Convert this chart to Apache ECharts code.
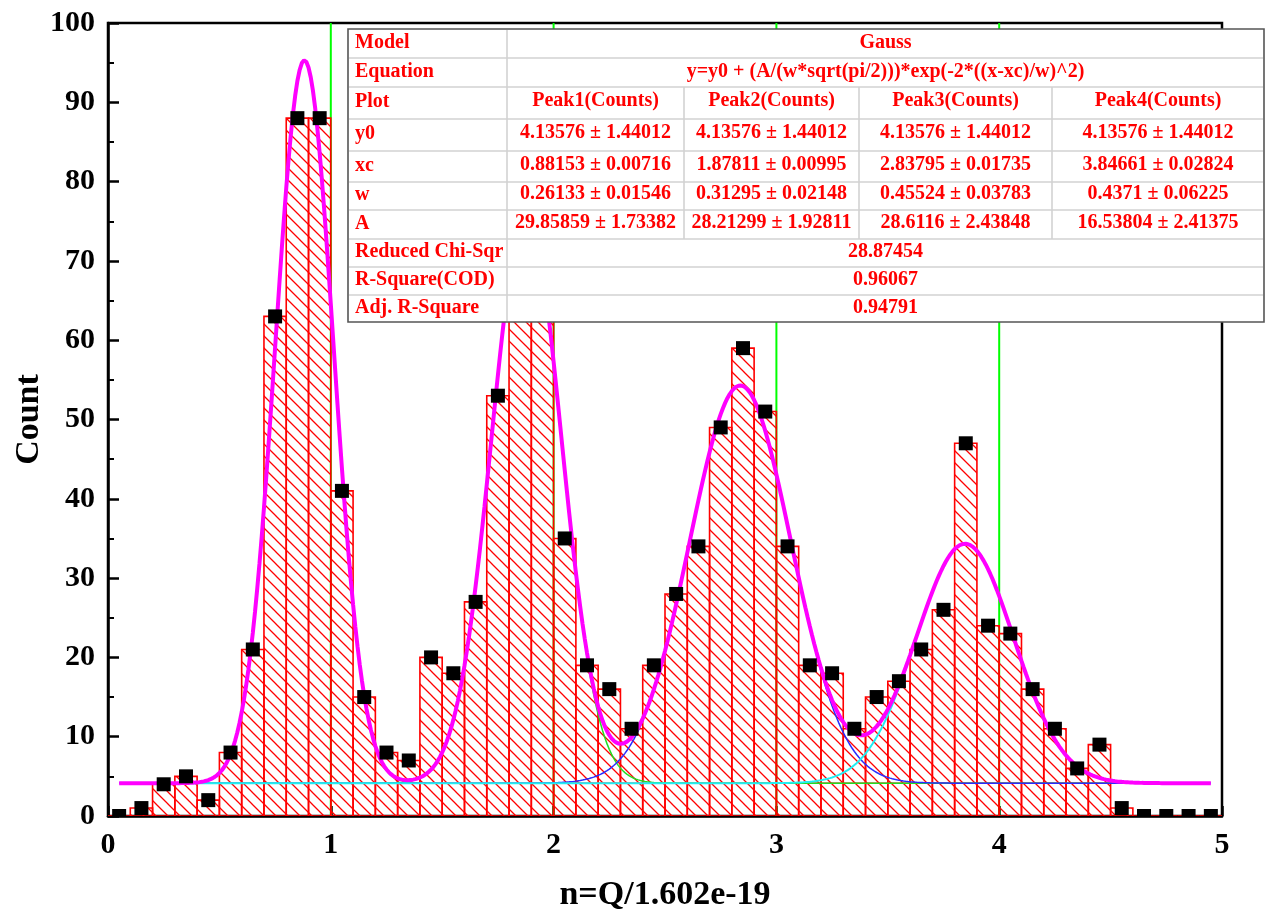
<!DOCTYPE html>
<html><head><meta charset="utf-8">
<script src="https://cdn.jsdelivr.net/npm/echarts@6/dist/echarts.min.js"></script>
<style>html,body{margin:0;padding:0;background:#fff}#c{width:1265px;height:914px}</style>
</head><body><div id="c"></div>
<script>
// ---------- data ----------
const binCenters = [0.05,0.15,0.25,0.35,0.45,0.55,0.65,0.75,0.85,0.95,
  1.05,1.15,1.25,1.35,1.45,1.55,1.65,1.75,1.85,1.95,
  2.05,2.15,2.25,2.35,2.45,2.55,2.65,2.75,2.85,2.95,
  3.05,3.15,3.25,3.35,3.45,3.55,3.65,3.75,3.85,3.95,
  4.05,4.15,4.25,4.35,4.45,4.55,4.65,4.75,4.85,4.95];
const counts = [0,1,4,5,2,8,21,63,88,88,
  41,15,8,7,20,18,27,53,72,68,
  35,19,16,11,19,28,34,49,59,51,
  34,19,18,11,15,17,21,26,47,24,
  23,16,11,6,9,1,0,0,0,0];
const binWidth = 0.1;
const referenceLines = [1,2,3,4];
// Gauss fit parameters (from the fit table)
const fitY0 = 4.13576;
const peakXc = [0.88153, 1.87811, 2.83795, 3.84661];
const peakW  = [0.26133, 0.31295, 0.45524, 0.4371];
const peakA  = [29.85859, 28.21299, 28.6116, 16.53804];
const fitRange = [0.05, 4.95];
// table texts
const tableLabels = ['Model','Equation','Plot','y0','xc','w','A','Reduced Chi-Sqr','R-Square(COD)','Adj. R-Square'];
const modelName = 'Gauss';
const equationText = 'y=y0 + (A/(w*sqrt(pi/2)))*exp(-2*((x-xc)/w)^2)';
const peakNames = ['Peak1(Counts)','Peak2(Counts)','Peak3(Counts)','Peak4(Counts)'];
const y0Cells = ['4.13576 \u00b1 1.44012','4.13576 \u00b1 1.44012','4.13576 \u00b1 1.44012','4.13576 \u00b1 1.44012'];
const xcCells = ['0.88153 \u00b1 0.00716','1.87811 \u00b1 0.00995','2.83795 \u00b1 0.01735','3.84661 \u00b1 0.02824'];
const wCells  = ['0.26133 \u00b1 0.01546','0.31295 \u00b1 0.02148','0.45524 \u00b1 0.03783','0.4371 \u00b1 0.06225'];
const aCells  = ['29.85859 \u00b1 1.73382','28.21299 \u00b1 1.92811','28.6116 \u00b1 2.43848','16.53804 \u00b1 2.41375'];
const statCells = ['28.87454','0.96067','0.94791'];
const xAxisTitle = 'n=Q/1.602e-19';
const yAxisTitle = 'Count';

// ---------- derived ----------
const barData = binCenters.map((c,i)=>[c-binWidth/2, c+binWidth/2, counts[i]]);
const pointData = binCenters.map((c,i)=>[c, counts[i]]);
function gaussTerm(x,i){ return (peakA[i]/(peakW[i]*Math.sqrt(Math.PI/2)))*Math.exp(-2*Math.pow((x-peakXc[i])/peakW[i],2)); }
const fitX = [];
for (let k=0; ; k++){ const x = +(fitRange[0]+k*0.01).toFixed(4); if (x>fitRange[1]+1e-9) break; fitX.push(x); }
const fitTotal = fitX.map(x=>[x, fitY0 + peakXc.reduce((s,_,i)=>s+gaussTerm(x,i),0)]);
const peakCurves = peakXc.map((_,i)=>fitX.map(x=>[x, fitY0 + gaussTerm(x,i)]));

// hatch pattern
const hatch = (function(){
  const s=12, c=document.createElement('canvas'); c.width=s; c.height=s;
  const g=c.getContext('2d'); g.strokeStyle='#ff0000'; g.lineWidth=1.3;
  g.beginPath(); g.moveTo(-1,-1); g.lineTo(s+1,s+1);
  g.moveTo(-2,s-2); g.lineTo(2,s+2); g.moveTo(s-2,-2); g.lineTo(s+2,2); g.stroke();
  return c;
})();

const FONT = "'Liberation Serif','Times New Roman',serif";
const chart = echarts.init(document.getElementById('c'), null, {renderer:'canvas'});

// ---------- table (graphic) ----------
const rowEdges = [29,58,87,119,151,182,210,239,267,295,322];
const colEdges = [348,507,684,859,1052,1264];
const tfont = "bold 20px 'Liberation Serif','Times New Roman',serif";
const graphics = [];
graphics.push({type:'rect', z:100, shape:{x:colEdges[0], y:rowEdges[0], width:colEdges[5]-colEdges[0], height:rowEdges[10]-rowEdges[0]},
  style:{fill:'#ffffff', stroke:'#555555', lineWidth:1.6}});
function hline(y,x1,x2){ graphics.push({type:'line', z:101, shape:{x1:x1,y1:y,x2:x2,y2:y}, style:{stroke:'#d2d2d2', lineWidth:1.6}}); }
function vline(x,y1,y2){ graphics.push({type:'line', z:101, shape:{x1:x,y1:y1,x2:x,y2:y2}, style:{stroke:'#d2d2d2', lineWidth:1.6}}); }
for (let r=1;r<rowEdges.length-1;r++) hline(rowEdges[r], colEdges[0]+1, colEdges[5]-1);
vline(colEdges[1], rowEdges[0]+1, rowEdges[10]-1);
for (let c=2;c<=4;c++) vline(colEdges[c], rowEdges[2], rowEdges[7]);
function txt(s,x,y,align){ graphics.push({type:'text', z:102, x:x, y:y, style:{text:s, fill:'#ff0000', font:tfont, align:align, verticalAlign:'middle', textAlign:align, textVerticalAlign:'middle'}}); }
tableLabels.forEach((s,r)=>txt(s, colEdges[0]+7, (rowEdges[r]+rowEdges[r+1])/2 - 1, 'left'));
const wideCenter = (colEdges[1]+colEdges[5])/2;
txt(modelName, wideCenter, (rowEdges[0]+rowEdges[1])/2 - 1, 'center');
txt(equationText, wideCenter, (rowEdges[1]+rowEdges[2])/2 - 1, 'center');
[peakNames, y0Cells, xcCells, wCells, aCells].forEach((arr,k)=>{
  arr.forEach((s,i)=>txt(s, (colEdges[i+1]+colEdges[i+2])/2, (rowEdges[k+2]+rowEdges[k+3])/2 - 2, 'center'));
});
statCells.forEach((s,k)=>txt(s, wideCenter, (rowEdges[k+7]+rowEdges[k+8])/2 - 1, 'center'));

const axisLbl = {color:'#000', fontFamily:FONT, fontWeight:'bold', fontSize:30};
const option = {
  animation:false,
  backgroundColor:'#ffffff',
  grid:{left:108, right:43, top:23, bottom:98, show:true, borderColor:'#000', borderWidth:2.5, backgroundColor:'transparent', containLabel:false, outerBoundsMode:'none'},
  xAxis:{type:'value', min:0, max:5, interval:1,
    name:xAxisTitle, nameLocation:'middle', nameGap:62, nameMoveOverlap:false,
    nameTextStyle:{color:'#000', fontFamily:FONT, fontWeight:'bold', fontSize:34},
    axisLine:{show:true, onZero:false, lineStyle:{color:'#000', width:2.5}},
    axisTick:{show:true, inside:true, length:10, lineStyle:{color:'#000', width:2.5}},
    axisLabel:{...axisLbl, margin:14},
    splitLine:{show:false}},
  yAxis:{type:'value', min:0, max:100, interval:10,
    name:yAxisTitle, nameLocation:'middle', nameGap:62, nameMoveOverlap:false,
    nameTextStyle:{color:'#000', fontFamily:FONT, fontWeight:'bold', fontSize:34},
    axisLine:{show:true, onZero:false, lineStyle:{color:'#000', width:2.5}},
    axisTick:{show:true, inside:true, length:11, lineStyle:{color:'#000', width:2.5}},
    minorTick:{show:true, splitNumber:2, length:6, lineStyle:{color:'#000', width:2}},
    axisLabel:{...axisLbl, margin:13},
    splitLine:{show:false}},
  graphic:{elements:graphics},
  series:[
    {type:'custom', name:'ref', clip:true, z:1, data:referenceLines.map(v=>[v]),
      renderItem:(p,api)=>{ const a=api.coord([api.value(0),0]); const b=api.coord([api.value(0),100]);
        return {type:'line', shape:{x1:a[0],y1:a[1],x2:b[0],y2:b[1]}, style:{stroke:'#00ff00', lineWidth:2}}; }},
    {type:'custom', name:'Counts', clip:true, z:2, data:barData,
      renderItem:(p,api)=>{ const a=api.coord([api.value(0),0]); const b=api.coord([api.value(1),api.value(2)]);
        return {type:'rect', shape:{x:a[0], y:b[1], width:b[0]-a[0], height:a[1]-b[1]},
          style:{fill:{image:hatch, repeat:'repeat'}, stroke:'#ff0000', lineWidth:1.6}}; }},
    {type:'line', name:'Peak1', data:peakCurves[0], showSymbol:false, z:3, lineStyle:{color:'#ff0000', width:1.5}},
    {type:'line', name:'Peak2', data:peakCurves[1], showSymbol:false, z:3, lineStyle:{color:'#22dd22', width:1.5}},
    {type:'line', name:'Peak3', data:peakCurves[2], showSymbol:false, z:3, lineStyle:{color:'#2a2aff', width:1.5}},
    {type:'line', name:'Peak4', data:peakCurves[3], showSymbol:false, z:3, lineStyle:{color:'#22eef2', width:2}},
    {type:'line', name:'Fit', data:fitTotal, showSymbol:false, z:4, lineStyle:{color:'#ff00ff', width:4}},
    {type:'custom', name:'Points', clip:true, z:5, data:pointData,
      renderItem:(p,api)=>{ const a=api.coord([api.value(0),api.value(1)]);
        return {type:'rect', shape:{x:a[0]-7, y:a[1]-7, width:14, height:14}, style:{fill:'#000'}}; }}
  ]
};
chart.setOption(option);
</script></body></html>
